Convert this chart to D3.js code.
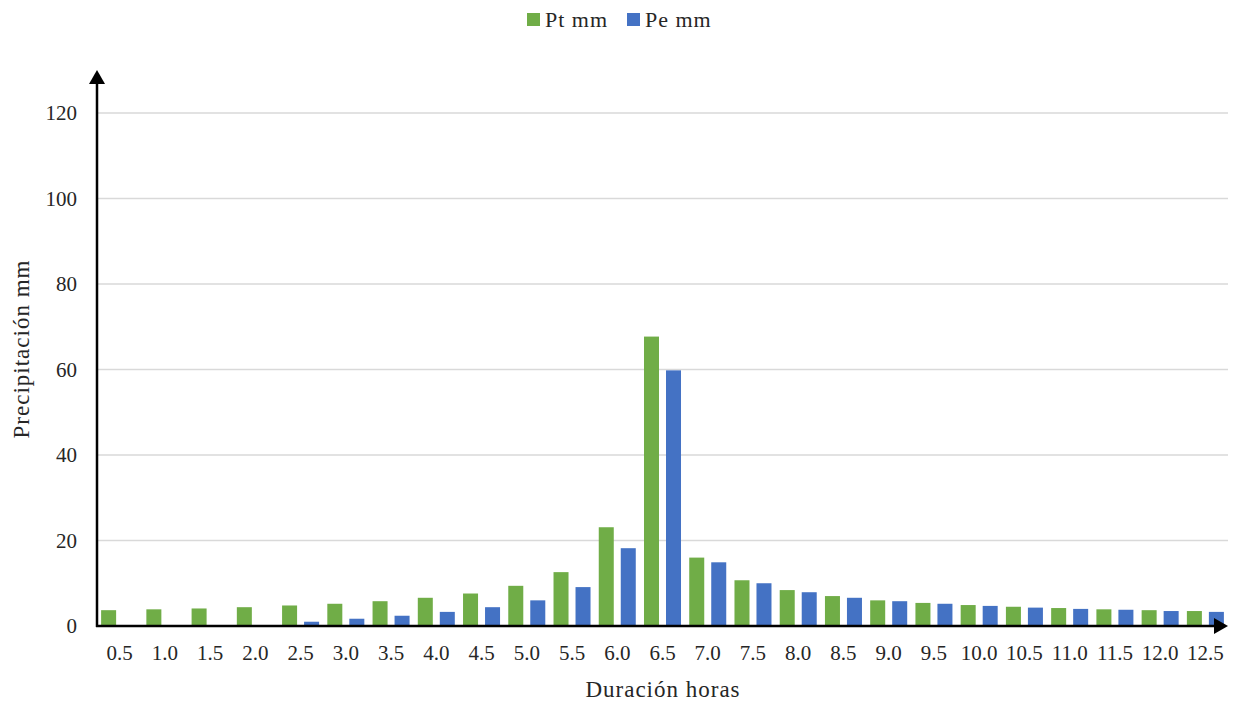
<!DOCTYPE html>
<html>
<head>
<meta charset="utf-8">
<script src="https://cdn.jsdelivr.net/npm/d3@7"></script>
<style>
  html, body { margin: 0; padding: 0; background: #fff; }
  svg { display: block; }
</style>
</head>
<body>
<svg id="chart" width="1234" height="704"></svg>
<script>
const categories = ["0.5","1.0","1.5","2.0","2.5","3.0","3.5","4.0","4.5","5.0","5.5","6.0","6.5",
                    "7.0","7.5","8.0","8.5","9.0","9.5","10.0","10.5","11.0","11.5","12.0","12.5"];
const ptValues = [3.7, 3.9, 4.1, 4.4, 4.8, 5.2, 5.8, 6.6, 7.6, 9.4, 12.6, 23.1, 67.7,
                  16.0, 10.7, 8.4, 7.0, 6.0, 5.4, 4.9, 4.5, 4.2, 3.9, 3.7, 3.5];
const peValues = [0, 0, 0, 0.2, 1.0, 1.7, 2.4, 3.3, 4.4, 6.0, 9.1, 18.2, 59.8,
                  14.9, 10.0, 7.9, 6.6, 5.8, 5.2, 4.7, 4.3, 4.0, 3.8, 3.5, 3.3];
const seriesNames = ["Pt mm", "Pe mm"];
const seriesColors = ["#70AD47", "#4472C4"];
const yTicks = [0, 20, 40, 60, 80, 100, 120];
const xTitle = "Duración horas";
const yTitle = "Precipitación mm";

const FONT = "'Liberation Serif', 'Times New Roman', Times, serif";
const svg = d3.select("#chart");
const pLeft = 97, pRight = 1228, pTop = 113, pBottom = 626;

const x0 = d3.scaleBand().domain(categories).range([pLeft, pRight]).paddingInner(0).paddingOuter(0);
const x1 = d3.scaleBand().domain(seriesNames).range([0, x0.bandwidth()]).paddingInner(0.318).paddingOuter(0.187);
const y = d3.scaleLinear().domain([0, 120]).range([pBottom, pTop]);

// gridlines
svg.append("g")
  .selectAll("line")
  .data(yTicks.filter(d => d > 0))
  .join("line")
  .attr("x1", pLeft).attr("x2", pRight)
  .attr("y1", d => y(d)).attr("y2", d => y(d))
  .attr("stroke", "#D9D9D9").attr("stroke-width", 1.5);

// bars
const rows = categories.map((c, i) => ({cat: c, vals: [ptValues[i], peValues[i]]}));
const groups = svg.append("g").selectAll("g")
  .data(rows).join("g")
  .attr("transform", d => `translate(${x0(d.cat)},0)`);
groups.selectAll("rect")
  .data(d => d.vals.map((v, k) => ({name: seriesNames[k], v, k})))
  .join("rect")
  .attr("x", d => x1(d.name))
  .attr("width", x1.bandwidth())
  .attr("y", d => y(d.v))
  .attr("height", d => y(0) - y(d.v))
  .attr("fill", d => seriesColors[d.k]);

// y tick labels
const yAxis = d3.axisLeft(y).tickValues(yTicks).tickSize(0).tickPadding(20);
const gy = svg.append("g").attr("transform", `translate(${pLeft},0)`).call(yAxis);
gy.attr("font-family", null).attr("font-size", null);
gy.select(".domain").remove();
gy.selectAll("text").style("font-family", FONT).style("font-size", "21px").attr("fill", "#262626");

// x tick labels
const xAxis = d3.axisBottom(x0).tickSize(0).tickPadding(19);
const gx = svg.append("g").attr("transform", `translate(0,${pBottom})`).call(xAxis);
gx.attr("font-family", null).attr("font-size", null);
gx.select(".domain").remove();
gx.selectAll("text").style("font-family", FONT).style("font-size", "21px").attr("fill", "#262626");

// axes lines with arrows
svg.append("line").attr("x1", pLeft).attr("x2", pLeft).attr("y1", pBottom + 1).attr("y2", 82)
  .attr("stroke", "#000").attr("stroke-width", 2.5);
svg.append("path").attr("d", `M${pLeft},70 L${pLeft - 8},84 L${pLeft + 8},84 Z`).attr("fill", "#000");
svg.append("line").attr("x1", pLeft - 1).attr("x2", pRight - 12).attr("y1", pBottom).attr("y2", pBottom)
  .attr("stroke", "#000").attr("stroke-width", 2.5);
svg.append("path").attr("d", `M${pRight},${pBottom} L${pRight - 14},${pBottom - 8} L${pRight - 14},${pBottom + 8} Z`).attr("fill", "#000");

// axis titles
svg.append("text").attr("x", 663).attr("y", 697)
  .attr("text-anchor", "middle")
  .style("font-family", FONT).style("font-size", "23px").style("letter-spacing", "1px")
  .attr("fill", "#262626").text(xTitle);
svg.append("text").attr("transform", `translate(29,349) rotate(-90)`)
  .attr("text-anchor", "middle")
  .style("font-family", FONT).style("font-size", "23px").style("letter-spacing", "1px")
  .attr("fill", "#262626").text(yTitle);

// legend
const legend = svg.append("g");
const legendX = [527, 627];
seriesNames.forEach((n, k) => {
  legend.append("rect").attr("x", legendX[k]).attr("y", 13).attr("width", 13).attr("height", 13)
    .attr("fill", seriesColors[k]);
  legend.append("text").attr("x", legendX[k] + 18).attr("y", 27)
    .style("font-family", FONT).style("font-size", "22px").style("letter-spacing", "1px")
    .attr("fill", "#262626").text(n);
});
</script>
</body>
</html>
